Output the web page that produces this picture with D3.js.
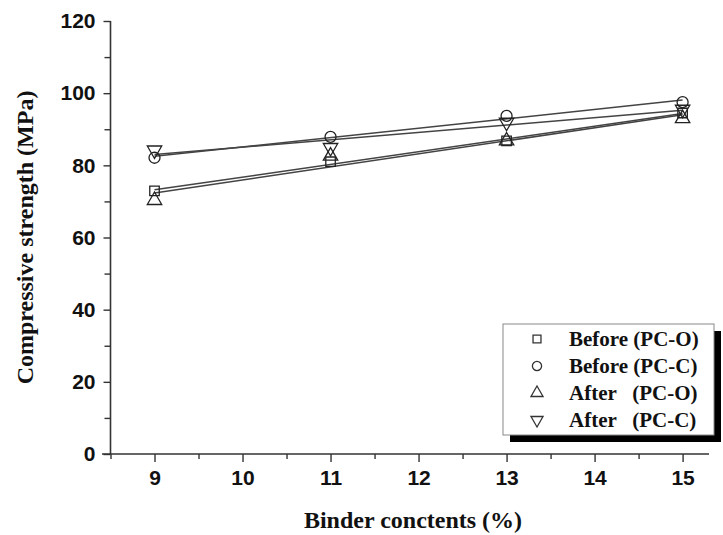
<!DOCTYPE html>
<html lang="en">
<head>
<meta charset="UTF-8">
<title>Compressive strength vs binder contents</title>
<script src="https://d3js.org/d3.v7.min.js"></script>
<style>
  body { margin: 0; background: #fff; }
</style>
</head>
<body>
<div id="chart"></div>
<script>
// binder contents (%) on the x axis
const binder = [9, 11, 13, 15];
// compressive strength (MPa) per series
const beforePCO = [72.9, 81.0, 86.8, 94.5];
const beforePCC = [82.1, 87.9, 93.7, 97.5];
const afterPCO = [70.3, 82.6, 86.8, 93.0];
const afterPCC = [84.2, 84.9, 91.9, 95.5];
const seriesNames = ["Before (PC-O)", "Before (PC-C)", "After   (PC-O)", "After   (PC-C)"];
const xTicks = [9, 10, 11, 12, 13, 14, 15];
const yTicks = [0, 20, 40, 60, 80, 100, 120];

const W = 723, H = 535;
const svg = d3.select("#chart").append("svg")
    .attr("width", W).attr("height", H);

const x = d3.scaleLinear().domain([8.5, 15.3]).range([110.5, 709]);
const y = d3.scaleLinear().domain([0, 120]).range([454, 21]);

const tickFont = "Liberation Sans, Arial, sans-serif";
const titleFont = "Liberation Serif, Times New Roman, serif";

const series = [
    { name: seriesNames[0], values: beforePCO, sym: d3.symbolSquare, size: 90 },
    { name: seriesNames[1], values: beforePCC, sym: d3.symbolCircle, size: 95 },
    { name: seriesNames[2], values: afterPCO, sym: d3.symbolTriangle, size: 90 },
    { name: seriesNames[3], values: afterPCC, sym: d3.symbolTriangle, size: 90, rot: 180 }
];

// x axis
svg.append("g")
    .attr("transform", `translate(0,${y(0)})`)
    .call(d3.axisBottom(x).tickValues(xTicks).tickSize(8).tickPadding(8).tickFormat(d3.format("d")))
    .call(g => g.select(".domain").remove())
    .call(g => g.selectAll("text").attr("font-family", tickFont)
        .attr("font-weight", "bold").attr("font-size", 21).attr("fill", "#111"))
    .call(g => g.selectAll("line").attr("stroke", "#333").attr("stroke-width", 1.4));
// minor x ticks
svg.append("g")
    .attr("transform", `translate(0,${y(0)})`)
    .call(d3.axisBottom(x).tickValues(d3.range(8.5, 15.3, 1)).tickSize(5).tickFormat(""))
    .call(g => g.select(".domain").remove())
    .call(g => g.selectAll("line").attr("stroke", "#333").attr("stroke-width", 1.4));
svg.append("line")
    .attr("x1", 102).attr("x2", x.range()[1])
    .attr("y1", y(0)).attr("y2", y(0))
    .attr("stroke", "#333").attr("stroke-width", 1.6);

// y axis
svg.append("g")
    .attr("transform", `translate(${x.range()[0]},0)`)
    .call(d3.axisLeft(y).tickValues(yTicks).tickSize(7).tickPadding(8))
    .call(g => g.select(".domain").remove())
    .call(g => g.selectAll("text").attr("font-family", tickFont)
        .attr("font-weight", "bold").attr("font-size", 21).attr("fill", "#111"))
    .call(g => g.selectAll("line").attr("stroke", "#333").attr("stroke-width", 1.4));
svg.append("g")
    .attr("transform", `translate(${x.range()[0]},0)`)
    .call(d3.axisLeft(y).tickValues(d3.range(10, 120, 20)).tickSize(6).tickFormat(""))
    .call(g => g.select(".domain").remove())
    .call(g => g.selectAll("line").attr("stroke", "#333").attr("stroke-width", 1.4));
svg.append("line")
    .attr("x1", x.range()[0]).attr("x2", x.range()[0])
    .attr("y1", y(0)).attr("y2", y(120))
    .attr("stroke", "#333").attr("stroke-width", 1.6);

// axis titles
svg.append("text")
    .attr("x", 413).attr("y", 528)
    .attr("text-anchor", "middle")
    .attr("font-family", titleFont)
    .attr("font-weight", "bold").attr("font-size", 24).attr("fill", "#111")
    .text("Binder conctents (%)");
svg.append("text")
    .attr("transform", `translate(33,${(y(0) + y(120)) / 2}) rotate(-90)`)
    .attr("text-anchor", "middle")
    .attr("font-family", titleFont)
    .attr("font-weight", "bold").attr("font-size", 24).attr("fill", "#111")
    .text("Compressive strength (MPa)");

// linear fit line per series
function fit(xs, ys) {
    const mx = d3.mean(xs), my = d3.mean(ys);
    const b = d3.sum(xs, (v, i) => (v - mx) * (ys[i] - my)) / d3.sum(xs, v => (v - mx) ** 2);
    return v => my + b * (v - mx);
}
const xEnds = d3.extent(binder);
series.forEach(s => {
    const f = fit(binder, s.values);
    svg.append("line")
        .attr("x1", x(xEnds[0])).attr("y1", y(f(xEnds[0])))
        .attr("x2", x(xEnds[1])).attr("y2", y(f(xEnds[1])))
        .attr("stroke", "#444").attr("stroke-width", 1.5);
});

// markers
series.forEach(s => {
    svg.append("g").selectAll("path")
        .data(s.values)
        .join("path")
        .attr("d", d3.symbol().type(s.sym).size(s.size))
        .attr("transform", (d, i) => `translate(${x(binder[i])},${y(d)}) rotate(${s.rot || 0})`)
        .attr("fill", "none")
        .attr("stroke", "#222")
        .attr("stroke-width", 1.3);
});

// legend with drop shadow
const lg = { x: 503, y: 324, w: 211, h: 111 };
svg.append("rect")
    .attr("x", lg.x + 7).attr("y", lg.y + 7)
    .attr("width", lg.w).attr("height", lg.h)
    .attr("fill", "#000");
svg.append("rect")
    .attr("x", lg.x).attr("y", lg.y)
    .attr("width", lg.w).attr("height", lg.h)
    .attr("fill", "#fff").attr("stroke", "#888").attr("stroke-width", 1);
series.forEach((s, i) => {
    const cy = lg.y + 15 + i * 27;
    svg.append("path")
        .attr("d", d3.symbol().type(s.sym).size(s.size * 0.7))
        .attr("transform", `translate(${lg.x + 34},${cy}) rotate(${s.rot || 0})`)
        .attr("fill", "none").attr("stroke", "#333").attr("stroke-width", 1.3);
    svg.append("text")
        .attr("x", lg.x + 66).attr("y", cy + 7)
        .attr("xml:space", "preserve")
        .style("white-space", "pre")
        .attr("font-family", titleFont)
        .attr("font-weight", "bold").attr("font-size", 21).attr("fill", "#111")
        .text(s.name);
});
</script>
</body>
</html>
